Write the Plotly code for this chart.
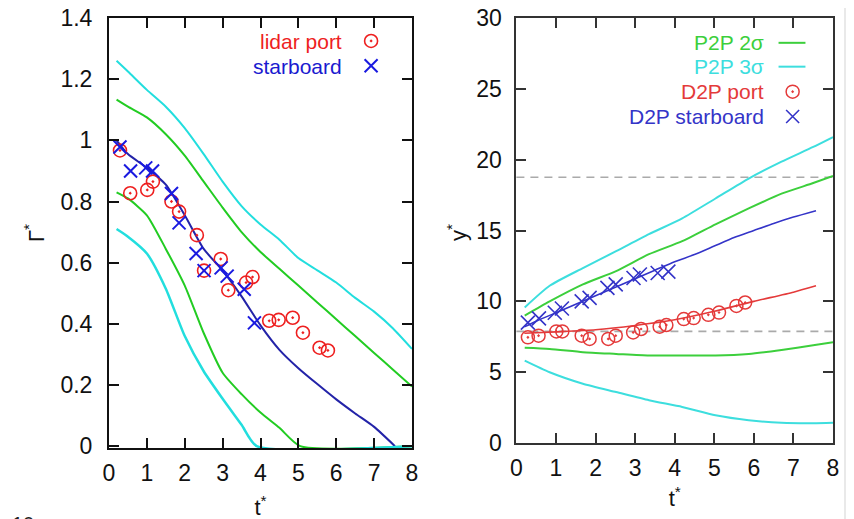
import plotly.graph_objects as go

# ---------------- Left panel data (Gamma* vs t*) ----------------
t_lidar = [0.29, 0.56, 1.01, 1.16, 1.65, 1.85, 2.32, 2.51, 2.95, 3.15, 3.62, 3.79,
           4.23, 4.48, 4.85, 5.12, 5.56, 5.78]
g_port = [0.967, 0.827, 0.838, 0.865, 0.80, 0.767, 0.69, 0.574, 0.612, 0.51, 0.535, 0.553,
          0.41, 0.413, 0.42, 0.371, 0.322, 0.313]
t_star = [0.29, 0.57, 0.97, 1.15, 1.65, 1.85, 2.30, 2.51, 2.96, 3.12, 3.57, 3.84]
g_star = [0.978, 0.90, 0.91, 0.90, 0.826, 0.73, 0.63, 0.574, 0.583, 0.556, 0.513, 0.403]

t_model = [0.2, 0.5, 1.0, 1.5, 2.0, 2.5, 3.0, 3.5, 4.0, 4.5, 5.0, 5.5, 6.0, 6.5, 7.0, 7.55]
g_model = [1.0, 0.955, 0.91, 0.855, 0.755, 0.645, 0.574, 0.49, 0.395, 0.315, 0.255, 0.203,
           0.153, 0.107, 0.063, 0.0]
t_curve = [0.2, 0.5, 1.0, 1.5, 2.0, 2.5, 3.0, 3.5, 4.0, 4.5, 5.0, 5.5, 6.0, 6.5, 7.0, 7.5, 8.0]
g_up2 = [1.133, 1.11, 1.075, 1.02, 0.95, 0.865, 0.78, 0.70, 0.635, 0.58, 0.525, 0.47, 0.415,
         0.36, 0.305, 0.25, 0.195]
g_up3 = [1.26, 1.225, 1.165, 1.11, 1.04, 0.955, 0.865, 0.785, 0.725, 0.675, 0.615, 0.575,
         0.535, 0.485, 0.44, 0.385, 0.318]
t_lo2 = [0.2, 0.5, 1.0, 1.5, 2.0, 2.5, 3.0, 3.5, 4.0, 4.5, 5.05, 8.0]
g_lo2 = [0.83, 0.81, 0.755, 0.645, 0.525, 0.37, 0.24, 0.17, 0.11, 0.06, 0.0, 0.0]
t_lo3 = [0.2, 0.5, 1.0, 1.5, 2.0, 2.5, 3.0, 3.5, 3.9, 8.0]
g_lo3 = [0.71, 0.685, 0.63, 0.515, 0.36, 0.245, 0.155, 0.07, 0.0, 0.0]

# ---------------- Right panel data (y* vs t*) ----------------
y_port = [7.46, 7.58, 7.88, 7.88, 7.58, 7.35, 7.35, 7.58, 7.81, 8.05, 8.21, 8.33,
          8.75, 8.82, 9.05, 9.21, 9.68, 9.92]
y_star = [8.5, 8.8, 9.2, 9.5, 10.0, 10.25, 10.95, 11.2, 11.65, 11.9, 12.0, 12.1]

t_d2p = [0.2, 1.0, 2.0, 3.0, 4.0, 5.0, 6.0, 7.0, 7.57]
y_port_fit = [7.75, 7.85, 8.0, 8.3, 8.7, 9.3, 10.0, 10.65, 11.1]
t_d2p_s = [0.2, 0.5, 1.0, 1.5, 2.0, 2.5, 3.0, 3.5, 4.0, 4.5, 5.0, 5.5, 6.0, 6.5, 7.0, 7.57]
y_star_fit = [8.2, 8.6, 9.2, 9.8, 10.4, 11.0, 11.6, 12.2, 12.8, 13.3, 13.9, 14.5, 15.0, 15.5,
              15.95, 16.4]

t_p2p = [0.21, 0.84, 1.68, 2.52, 3.35, 4.19, 5.03, 5.87, 6.7, 7.5, 8.0]
y_up2 = [9.0, 10.0, 11.2, 12.14, 13.33, 14.25, 15.44, 16.56, 17.6, 18.35, 18.85]
y_up3 = [9.57, 11.1, 12.35, 13.54, 14.74, 15.86, 17.26, 18.67, 19.86, 20.9, 21.6]
y_lo2 = [6.72, 6.64, 6.41, 6.29, 6.18, 6.18, 6.18, 6.29, 6.57, 6.9, 7.11]
y_lo3 = [5.82, 5.0, 4.19, 3.6, 3.02, 2.55, 1.96, 1.61, 1.43, 1.4, 1.43]
y_ref_hi = 18.76
y_ref_lo = 7.88

x_ticks = [0, 1, 2, 3, 4, 5, 6, 7, 8]
yl_ticks = [0, 0.2, 0.4, 0.6, 0.8, 1, 1.2, 1.4]
yl_text = ["0", "0.2", "0.4", "0.6", "0.8", "1", "1.2", "1.4"]
yr_ticks = [0, 5, 10, 15, 20, 25, 30]

# colours
RED = "#ee1f1f"
BLUE_M = "#1a1ae0"
BLUE_L = "#2323a8"
GREEN = "#22cc22"
CYAN = "#22dede"
RED_R = "#e43a3a"
BLUE_R = "#3434c8"
GREEN_R = "#3ccf3c"
CYAN_R = "#3ddede"

FONT = "Liberation Sans, Arial, sans-serif"

fig = go.Figure()

def line(x, y, col, w, ax, spline=True):
    fig.add_trace(go.Scatter(x=x, y=y, mode="lines",
                             line=dict(color=col, width=w,
                                       shape="spline" if spline else "linear",
                                       smoothing=0.6),
                             xaxis=ax[0], yaxis=ax[1], showlegend=False))

L = ("x", "y")
R = ("x2", "y2")

# ---- left panel ----
line(t_model, g_model, BLUE_L, 2, L)
line(t_curve, g_up2, GREEN, 2, L)
line(t_lo2, g_lo2, GREEN, 2, L)
line(t_curve, g_up3, CYAN, 2, L)
line(t_lo3, g_lo3, CYAN, 2.5, L)
fig.add_trace(go.Scatter(x=t_lidar, y=g_port, mode="markers",
                         marker=dict(symbol="circle-open-dot", size=13, color=RED,
                                     line=dict(width=1.6, color=RED)),
                         xaxis="x", yaxis="y", showlegend=False))
fig.add_trace(go.Scatter(x=t_star, y=g_star, mode="markers",
                         marker=dict(symbol="x-thin-open", size=13, color=BLUE_M,
                                     line=dict(width=2, color=BLUE_M)),
                         xaxis="x", yaxis="y", showlegend=False))

# ---- right panel ----
line(t_p2p, y_up2, GREEN_R, 2, R)
line(t_p2p, y_lo2, GREEN_R, 2, R)
line(t_p2p, y_up3, CYAN_R, 2, R)
line(t_p2p, y_lo3, CYAN_R, 2, R)
line(t_d2p, y_port_fit, RED_R, 1.6, R)
line(t_d2p_s, y_star_fit, BLUE_R, 1.6, R)
fig.add_trace(go.Scatter(x=t_lidar, y=y_port, mode="markers",
                         marker=dict(symbol="circle-open-dot", size=13, color=RED_R,
                                     line=dict(width=1.5, color=RED_R)),
                         xaxis="x2", yaxis="y2", showlegend=False))
fig.add_trace(go.Scatter(x=t_star, y=y_star, mode="markers",
                         marker=dict(symbol="x-thin-open", size=14, color=BLUE_R,
                                     line=dict(width=1.6, color=BLUE_R)),
                         xaxis="x2", yaxis="y2", showlegend=False))

# ---- legend keys (markers drawn by the library, positioned in axis space) ----
fig.add_trace(go.Scatter(x=[6.92], y=[1.325], mode="markers",
                         marker=dict(symbol="circle-open-dot", size=13, color=RED,
                                     line=dict(width=1.6, color=RED)),
                         xaxis="x", yaxis="y", showlegend=False, hoverinfo="skip"))
fig.add_trace(go.Scatter(x=[6.92], y=[1.244], mode="markers",
                         marker=dict(symbol="x-thin-open", size=13, color=BLUE_M,
                                     line=dict(width=2, color=BLUE_M)),
                         xaxis="x", yaxis="y", showlegend=False, hoverinfo="skip"))
fig.add_trace(go.Scatter(x=[6.98], y=[24.8], mode="markers",
                         marker=dict(symbol="circle-open-dot", size=13, color=RED_R,
                                     line=dict(width=1.5, color=RED_R)),
                         xaxis="x2", yaxis="y2", showlegend=False, hoverinfo="skip"))
fig.add_trace(go.Scatter(x=[6.98], y=[23.05], mode="markers",
                         marker=dict(symbol="x-thin-open", size=13, color=BLUE_R,
                                     line=dict(width=1.6, color=BLUE_R)),
                         xaxis="x2", yaxis="y2", showlegend=False, hoverinfo="skip"))

axis_common = dict(
    showgrid=False, zeroline=False, showline=True, mirror="ticks",
    ticks="inside", ticklen=10, tickwidth=1.6, automargin=False,
    ticklabeloverflow="allow",
    tickfont=dict(family=FONT, size=23, color="#111"),
)

# the page body adds an 8px offset, margins compensate for it
fig.update_layout(
    template="none",
    width=854, height=519,
    margin=dict(l=101, r=29, t=10, b=79, autoexpand=False),
    paper_bgcolor="white", plot_bgcolor="white",
    font=dict(family=FONT, color="#111"),
    showlegend=False,
    xaxis=dict(domain=[0, 0.4185], range=[0, 8], tickvals=x_ticks,
               linecolor="#111", linewidth=2, tickcolor="#111", anchor="y",
               ticklabelstandoff=3,
               title=dict(text="t<sup>*</sup>", font=dict(family=FONT, size=22), standoff=15),
               **axis_common),
    yaxis=dict(domain=[0, 1], range=[-0.006, 1.4], tickvals=yl_ticks, ticktext=yl_text,
               linecolor="#111", linewidth=2, tickcolor="#111", anchor="x",
               ticklabelstandoff=10,
               title=dict(text="Γ<sup>*</sup>", font=dict(family=FONT, size=22), standoff=10),
               **axis_common),
    xaxis2=dict(domain=[0.5627, 1.0], range=[0, 8], tickvals=x_ticks,
                linecolor="#333", linewidth=2, tickcolor="#333", anchor="y2",
                ticklabelstandoff=3,
                title=dict(text="t<sup>*</sup>", font=dict(family=FONT, size=22), standoff=11),
                **axis_common),
    yaxis2=dict(domain=[0.0115, 1.0], range=[0, 30], tickvals=yr_ticks,
                linecolor="#333", linewidth=2, tickcolor="#333", anchor="x2",
                ticklabelstandoff=8,
                **axis_common),
)

# right y-axis title
fig.add_annotation(text="y<sup>*</sup>", xref="paper", yref="paper", x=0.4807, y=0.50,
                   xanchor="center", yanchor="middle", textangle=-90, showarrow=False,
                   font=dict(family=FONT, size=22, color="#111"))

# dashed reference lines in right panel
for yv in (y_ref_hi, y_ref_lo):
    fig.add_shape(type="line", xref="x2 domain", yref="y2", x0=0, x1=1, y0=yv, y1=yv,
                  line=dict(color="#aaaaaa", width=1.6, dash="8px,6px"), layer="below")

# legend text (left panel)
fig.add_annotation(text="lidar port", xref="x domain", yref="y domain", x=0.772, y=0.9446,
                   xanchor="right", yanchor="middle", showarrow=False, borderpad=0,
                   font=dict(family=FONT, size=21, color=RED))
fig.add_annotation(text="starboard", xref="x domain", yref="y domain", x=0.772, y=0.8868,
                   xanchor="right", yanchor="middle", showarrow=False, borderpad=0,
                   font=dict(family=FONT, size=21, color="#1a1ad0"))

# legend text (right panel)
leg_r = [("P2P 2σ", GREEN_R, 0.9416), ("P2P 3σ", CYAN_R, 0.8855),
         ("D2P port", RED_R, 0.8271), ("D2P starboard", BLUE_R, 0.7687)]
for txt, col, yy in leg_r:
    fig.add_annotation(text=txt, xref="x2 domain", yref="y2 domain", x=0.784, y=yy,
                       xanchor="right", yanchor="middle", showarrow=False, borderpad=0,
                       font=dict(family=FONT, size=21, color=col))
for col, yy in ((GREEN_R, 0.9416), (CYAN_R, 0.8855)):
    fig.add_shape(type="line", xref="x2 domain", yref="y2 domain", x0=0.828, x1=0.913,
                  y0=yy, y1=yy, line=dict(color=col, width=2))

# page edge line and clipped page number
fig.add_shape(type="line", xref="paper", yref="paper", x0=1.0166, x1=1.0166, y0=-0.2, y1=1.05,
              line=dict(color="#e2e2e2", width=1.5))
fig.add_annotation(text="10", xref="paper", yref="paper", x=-0.119, y=-0.146,
                   xanchor="center", yanchor="top", showarrow=False,
                   font=dict(family=FONT, size=20, color="#222"))

fig.write_html("out.html")
